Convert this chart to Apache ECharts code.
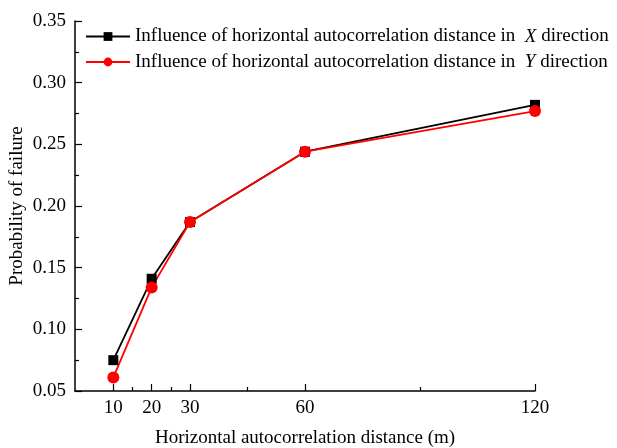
<!DOCTYPE html>
<html>
<head>
<meta charset="utf-8">
<script src="https://cdn.jsdelivr.net/npm/echarts@6/dist/echarts.min.js"></script>
<style>html,body{margin:0;padding:0;background:#fff}#c{width:617px;height:448px}</style>
</head>
<body>
<div id="c"></div>
<script>
// Autocorrelation distances (m) and failure probabilities
const distances = [10, 20, 30, 60, 120];
const probX = [0.075, 0.141, 0.187, 0.244, 0.282];
const probY = [0.061, 0.134, 0.187, 0.244, 0.277];
const xLabelValues = [10, 20, 30, 60, 120];
const xMinorTicks = [15, 25, 45, 90];
const seriesNames = [
  'Influence of horizontal autocorrelation distance in X direction',
  'Influence of horizontal autocorrelation distance in Y direction'
];

const font = 'Liberation Serif, Times New Roman, serif';
const fs = 19;
const chart = echarts.init(document.getElementById('c'), null, {renderer: 'canvas'});

const pair = arr => distances.map((d, i) => [d, arr[i]]);

chart.setOption({
  animation: false,
  backgroundColor: '#fff',
  grid: {left: 75, top: 21, width: 460, height: 370, outerBoundsMode: 'none', containLabel: false},
  legend: {
    orient: 'vertical',
    left: 80,
    top: 22,
    itemWidth: 44,
    itemHeight: 11,
    itemGap: 6.5,
    textStyle: {
      fontFamily: font, fontSize: fs, color: '#000',
      rich: {i: {fontFamily: font, fontSize: fs, fontStyle: 'italic', color: '#000'}}
    },
    formatter: name => name.replace(/ ([XY]) direction$/, '  {i|$1} direction'),
    data: seriesNames
  },
  xAxis: [{
    type: 'value', min: 0, max: 120, interval: 10,
    name: 'Horizontal autocorrelation distance (m)',
    nameLocation: 'middle', nameGap: 38, nameMoveOverlap: false,
    nameTextStyle: {fontFamily: font, fontSize: fs, color: '#000'},
    axisLine: {show: true, onZero: false, lineStyle: {color: '#000', width: 1.5}},
    axisTick: {show: true, inside: true, length: 7, lineStyle: {color: '#000', width: 1.2}, customValues: xLabelValues},
    axisLabel: {fontFamily: font, fontSize: fs, color: '#000', margin: 8, customValues: xLabelValues},
    splitLine: {show: false}
  }, {
    type: 'value', min: 0, max: 120, position: 'bottom',
    axisLine: {show: false},
    axisTick: {show: true, inside: true, length: 4, lineStyle: {color: '#000', width: 1.2}, customValues: xMinorTicks},
    axisLabel: {show: false},
    splitLine: {show: false}
  }],
  yAxis: {
    type: 'value', min: 0.05, max: 0.35, interval: 0.05,
    name: 'Probability of failure',
    nameLocation: 'middle', nameGap: 48, nameMoveOverlap: false,
    nameTextStyle: {fontFamily: font, fontSize: fs, color: '#000'},
    axisLine: {show: true, lineStyle: {color: '#000', width: 1.5}},
    axisTick: {show: true, inside: true, length: 7, lineStyle: {color: '#000', width: 1.2}},
    minorTick: {show: true, splitNumber: 2, length: 4, lineStyle: {color: '#000', width: 1.2}},
    axisLabel: {fontFamily: font, fontSize: fs, color: '#000', margin: 9, formatter: v => v.toFixed(2)},
    splitLine: {show: false}
  },
  series: [{
    name: seriesNames[0], type: 'line', data: pair(probX),
    symbol: 'rect', symbolSize: 10,
    lineStyle: {color: '#000', width: 1.8},
    itemStyle: {color: '#000'}
  }, {
    name: seriesNames[1], type: 'line', data: pair(probY),
    symbol: 'circle', symbolSize: 12,
    lineStyle: {color: '#ff0000', width: 1.8},
    itemStyle: {color: '#ff0000'}
  }]
});
</script>
</body>
</html>
